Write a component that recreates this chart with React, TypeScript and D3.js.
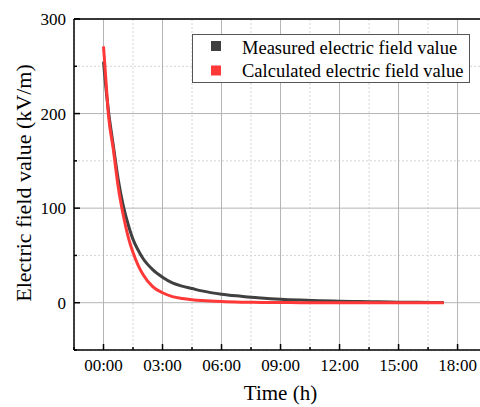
import React from "react";
import * as d3 from "d3";

// time in hours
const measuredT = [0, 0.1, 0.25, 0.5, 0.75, 1, 1.25, 1.5, 1.75, 2, 2.5, 3, 3.5, 4, 4.5, 5, 6, 7, 7.5, 8, 9, 10, 11, 12, 13, 14, 15, 16, 17.3];
const measuredV = [255, 232, 203, 166, 130, 103, 83, 67, 56, 47, 35, 27, 21, 17.5, 15, 12.5, 9, 6.8, 5.8, 5, 3.7, 2.8, 2.1, 1.6, 1.2, 0.9, 0.6, 0.4, 0.2];
const calcT = [0, 0.1, 0.25, 0.5, 0.75, 1, 1.25, 1.5, 1.75, 2, 2.5, 3, 3.5, 4, 4.5, 5, 6, 7, 8, 9, 10, 12, 14, 17.3];
const calcV = [271, 242, 199, 162, 122, 93, 70, 53, 40, 30, 17, 10.5, 6.5, 4.5, 3.2, 2.3, 1.2, 0.6, 0.3, 0.15, 0.08, 0.02, 0, 0];

const xTicks = [0, 3, 6, 9, 12, 15, 18];
const yTicks = [0, 100, 200, 300];
const legendLabels = ["Measured electric field value", "Calculated electric field value"];
const colors = ["#404040", "#ff3838"];

const W = 480;
const H = 407;
const left = 74;
const top = 19;
const bottom = 350;
const font = "'Times New Roman', Tinos, 'Liberation Serif', 'Nimbus Roman', FreeSerif, 'DejaVu Serif', serif";

export default function App() {
  const x = d3.scaleLinear().domain([-1.5, 20]).range([left, left + 21.5 * 19.67]);
  const y = d3.scaleLinear().domain([-50, 300]).range([bottom, top]);
  const right = W + 10;

  const xMinor = d3.range(-1.5, 20, 1.5).filter((d) => !xTicks.includes(d));
  const yMinor = d3.range(-50, 301, 50).filter((d) => !yTicks.includes(d));

  const line = d3
    .line<[number, number]>()
    .x((d) => x(d[0]))
    .y((d) => y(d[1]))
    .curve(d3.curveMonotoneX);

  const measured = measuredT.map((t, i) => [t, measuredV[i]] as [number, number]);
  const calculated = calcT.map((t, i) => [t, calcV[i]] as [number, number]);
  const fmt = (h: number) => `${String(h).padStart(2, "0")}:00`;

  return (
    <svg width={W} height={H} style={{ position: "absolute", left: 0, top: 0, fontFamily: font }}>
      <defs>
        <clipPath id="plot">
          <rect x={left} y={top} width={right - left} height={bottom - top} />
        </clipPath>
      </defs>
      <rect width={W} height={H} fill="#fff" />

      {/* minor grid */}
      {xMinor.map((d) => (
        <line key={"xm" + d} x1={x(d)} x2={x(d)} y1={top} y2={bottom} stroke="#d4d4d4" strokeDasharray="2,2" />
      ))}
      {yMinor.map((d) => (
        <line key={"ym" + d} x1={left} x2={right} y1={y(d)} y2={y(d)} stroke="#d4d4d4" strokeDasharray="2,2" />
      ))}
      {/* major grid */}
      {xTicks.map((d) => (
        <line key={"xg" + d} x1={x(d)} x2={x(d)} y1={top} y2={bottom} stroke="#b4b4b4" />
      ))}
      {yTicks.map((d) => (
        <line key={"yg" + d} x1={left} x2={right} y1={y(d)} y2={y(d)} stroke="#b4b4b4" />
      ))}

      <g clipPath="url(#plot)" fill="none" strokeWidth={3} strokeLinejoin="round">
        <path d={line(measured) ?? ""} stroke={colors[0]} />
        <path d={line(calculated) ?? ""} stroke={colors[1]} />
      </g>

      {/* axes */}
      <line x1={left} x2={right} y1={top} y2={top} stroke="#000" strokeWidth={1.5} />
      <line x1={left} x2={right} y1={bottom} y2={bottom} stroke="#000" strokeWidth={1.5} />
      <line x1={left} x2={left} y1={top} y2={bottom} stroke="#000" strokeWidth={1.5} />

      {xTicks.map((d) => (
        <g key={"xt" + d}>
          <line x1={x(d)} x2={x(d)} y1={bottom} y2={bottom - 6} stroke="#000" strokeWidth={1.5} />
          <text x={x(d)} y={371} textAnchor="middle" fontSize={17}>
            {fmt(d)}
          </text>
        </g>
      ))}
      {xMinor.map((d) => (
        <line key={"xmt" + d} x1={x(d)} x2={x(d)} y1={bottom} y2={bottom - 3} stroke="#000" strokeWidth={1.5} />
      ))}
      {yTicks.map((d) => (
        <g key={"yt" + d}>
          <line x1={left} x2={left + 6} y1={y(d)} y2={y(d)} stroke="#000" strokeWidth={1.5} />
          <text x={66} y={y(d)} dy="0.35em" textAnchor="end" fontSize={17}>
            {d}
          </text>
        </g>
      ))}
      {yMinor.map((d) => (
        <line key={"ymt" + d} x1={left} x2={left + 3} y1={y(d)} y2={y(d)} stroke="#000" strokeWidth={1.5} />
      ))}

      <text x={280.5} y={400} textAnchor="middle" fontSize={21}>
        Time (h)
      </text>
      <text transform="translate(31,183) rotate(-90)" textAnchor="middle" fontSize={22}>
        Electric field value (kV/m)
      </text>

      {/* legend */}
      <rect x={192.5} y={34.5} width={277} height={48} fill="#fff" stroke="#555" />
      {legendLabels.map((l, i) => (
        <g key={l}>
          <rect x={211} y={41 + i * 24.5} width={10} height={10} fill={colors[i]} />
          <text x={242} y={54 + i * 23} fontSize={18.5}>
            {l}
          </text>
        </g>
      ))}
    </svg>
  );
}
